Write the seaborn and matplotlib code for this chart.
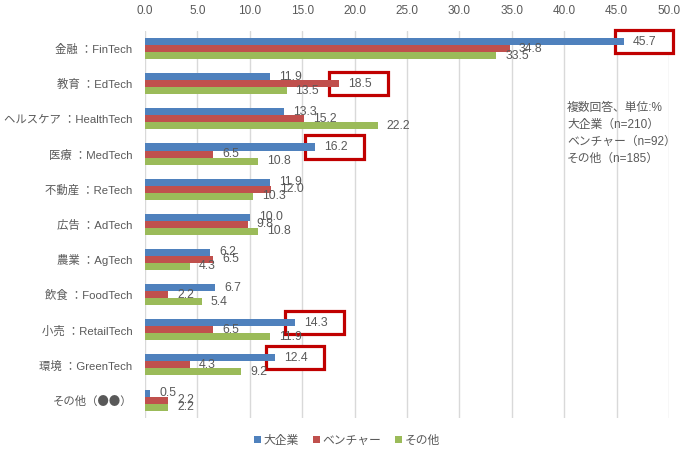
import matplotlib
matplotlib.use("Agg")
import matplotlib.pyplot as plt
from matplotlib.patches import Patch, Rectangle
import seaborn as sns
import pandas as pd

categories = ["金融 ：FinTech", "教育 ：EdTech", "ヘルスケア ：HealthTech", "医療 ：MedTech",
              "不動産 ：ReTech", "広告 ：AdTech", "農業 ：AgTech", "飲食 ：FoodTech",
              "小売 ：RetailTech", "環境 ：GreenTech", "その他（●●）"]
series = ["大企業", "ベンチャー", "その他"]
large = [45.7, 11.9, 13.3, 16.2, 11.9, 10.0, 6.2, 6.7, 14.3, 12.4, 0.5]
venture = [34.8, 18.5, 15.2, 6.5, 12.0, 9.8, 6.5, 2.2, 6.5, 4.3, 2.2]
other = [33.5, 13.5, 22.2, 10.8, 10.3, 10.8, 4.3, 5.4, 11.9, 9.2, 2.2]
x_ticks = [0, 5, 10, 15, 20, 25, 30, 35, 40, 45, 50]
highlights = [(0, "大企業"), (1, "ベンチャー"), (3, "大企業"), (8, "大企業"), (9, "大企業")]
note = "複数回答、単位:%\n大企業（n=210）\nベンチャー（n=92）\nその他（n=185）"

colors = ["#4F81BD", "#C0504D", "#9BBB59"]
txt_color = "#595959"
fam = ['Liberation Sans', 'Noto Sans CJK JP', 'DejaVu Sans']

sns.set_theme(style="white")
plt.rcParams['font.family'] = fam

rows = []
for s, vals in zip(series, [large, venture, other]):
    for c, v in zip(categories, vals):
        rows.append({"category": c, "series": s, "value": v})
df = pd.DataFrame(rows)

fig = plt.figure(figsize=(6.94, 4.63), dpi=100)
ax = fig.add_axes([0.209, 0.098, 0.755, 0.835])

sns.barplot(data=df, x="value", y="category", hue="series", order=categories,
            hue_order=series, palette=colors, orient="h", width=0.6, gap=0,
            saturation=1, legend=False, ax=ax, errorbar=None)

for p in ax.patches:
    p.set_zorder(2)
    p.set_linewidth(0)

ax.set_xlim(0, 50)
ax.set_ylim(10.5, -0.5)
ax.set_xticks(x_ticks)
ax.set_xticklabels([f"{t:.1f}" for t in x_ticks])
ax.xaxis.tick_top()
ax.tick_params(axis="x", length=0, labelsize=8.5, colors=txt_color, pad=10)
ax.tick_params(axis="y", length=0, labelsize=8.2, colors=txt_color, pad=9)
for lab in ax.get_yticklabels():
    if "●" in lab.get_text():
        lab.set_family(['Noto Sans CJK JP', 'DejaVu Sans'])
ax.set_xlabel("")
ax.set_ylabel("")
for s in ax.spines.values():
    s.set_visible(False)
ax.grid(axis="x", color="#D9D9D9", linewidth=1, zorder=0.5)
ax.set_axisbelow(True)

# data labels
bar_info = {}
for si, cont in enumerate(ax.containers):
    for ci, bar in enumerate(cont):
        w = bar.get_width()
        yc = bar.get_y() + bar.get_height() / 2
        bar_info[(ci, series[si])] = (w, yc)
        ax.annotate(f"{w:.1f}", xy=(w, yc), xytext=(6.5, 0), textcoords="offset points",
                    ha="left", va="center", fontsize=8.8, color=txt_color, zorder=4)

for ci, s in highlights:
    w, yc = bar_info[(ci, s)]
    r = Rectangle((w - 0.9, yc - 0.33), 5.6, 0.66, facecolor="white", edgecolor="#C00000",
                  linewidth=2.3, zorder=1.5, clip_on=False)
    ax.add_patch(r)

fig.text(0.817, 0.78, note, ha="left", va="top", fontsize=8.5, color=txt_color, linespacing=1.55)

handles = [Patch(facecolor=c, edgecolor="none") for c in colors]
fig.legend(handles, series, loc="center", bbox_to_anchor=(0.5, 0.048), ncol=3, frameon=False,
           fontsize=8.5, handlelength=0.6, handleheight=0.6, handletextpad=0.2, columnspacing=1.2,
           labelcolor=txt_color)

fig.savefig("out.png", dpi=100)
